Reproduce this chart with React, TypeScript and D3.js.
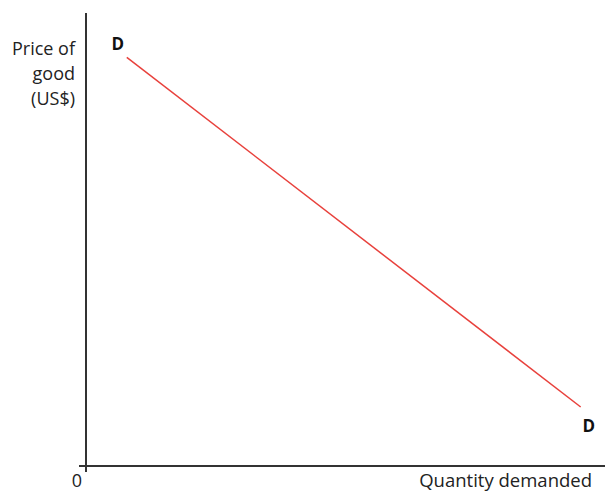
import * as d3 from "d3";

// demand curve endpoints (quantity, price) in arbitrary units
const quantity = [0.8, 9.7];
const price = [9.0, 1.3];
const curveLabels = ["D", "D"];
const yAxisTitle = ["Price of", "good", "(US$)"];
const xAxisTitle = "Quantity demanded";
const originLabel = "0";

export default function App() {
    const width = 605;
    const height = 493;

    const x = d3.scaleLinear().domain([0, 10]).range([86, 596]);
    const y = d3.scaleLinear().domain([0, 10]).range([466, 12]);

    const points = quantity.map((q, i) => [q, price[i]] as [number, number]);
    const line = d3
        .line<[number, number]>()
        .x((d) => x(d[0]))
        .y((d) => y(d[1]));

    const font = "'Open Sans', 'Noto Sans', sans-serif";

    return (
        <svg
            width={width}
            height={height}
            style={{ position: "absolute", left: 0, top: 0, background: "#fff" }}
        >
            {/* axes */}
            <line x1={x(0)} x2={x(0)} y1={y(10) + 1} y2={y(0) + 6} stroke="#333" strokeWidth={2} />
            <line x1={x(0) - 7} x2={width} y1={y(0)} y2={y(0)} stroke="#333" strokeWidth={2} />

            {/* demand curve */}
            <path d={line(points) ?? ""} fill="none" stroke="#e8413c" strokeWidth={1.5} />

            {/* curve labels */}
            <text x={x(quantity[0]) - 9} y={y(price[0]) - 7} textAnchor="middle" fontFamily={font} fontWeight="bold" fontSize={17} fill="#111">
                {curveLabels[0]}
            </text>
            <text x={x(quantity[1]) + 8} y={y(price[1]) + 25} textAnchor="middle" fontFamily={font} fontWeight="bold" fontSize={17} fill="#111">
                {curveLabels[1]}
            </text>

            {/* y axis title */}
            <text textAnchor="end" fontFamily={font} fontSize={18} fill="#222">
                {yAxisTitle.map((t, i) => (
                    <tspan key={t} x={75} y={55 + i * 25}>
                        {t}
                    </tspan>
                ))}
            </text>

            {/* x axis title and origin */}
            <text x={592} y={487} textAnchor="end" fontFamily={font} fontSize={18.5} fill="#222">
                {xAxisTitle}
            </text>
            <text x={77} y={487} textAnchor="middle" fontFamily={font} fontSize={18} fill="#222">
                {originLabel}
            </text>
        </svg>
    );
}
